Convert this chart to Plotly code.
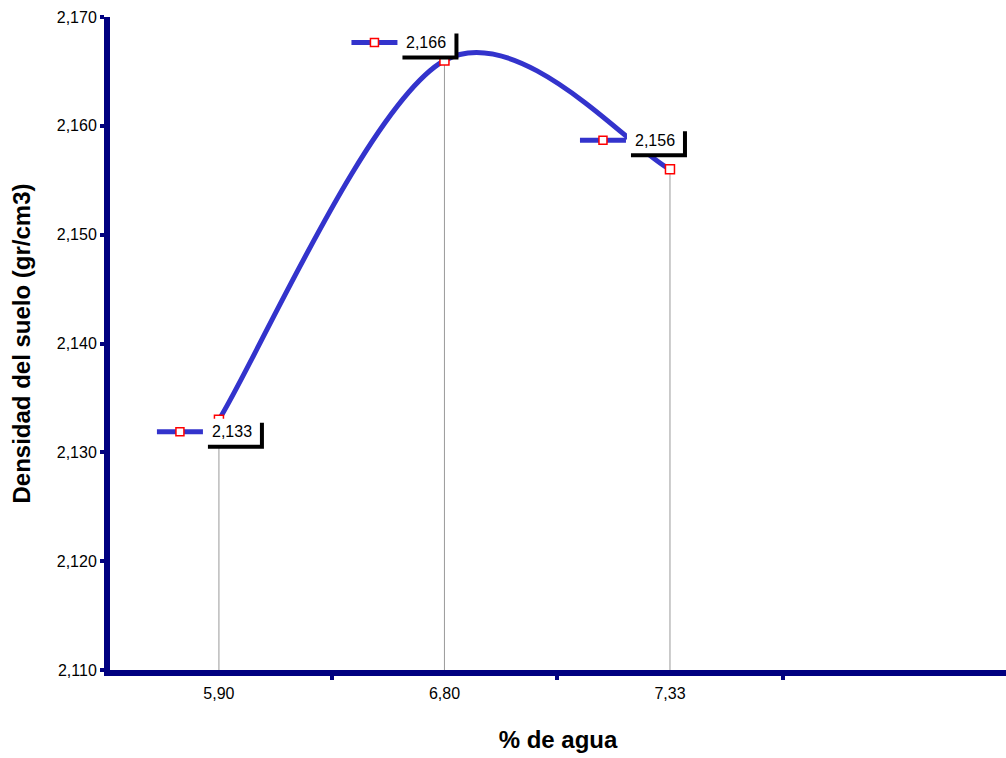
import plotly.graph_objects as go

# Compaction test: soil density vs water content
water_pct = [5.90, 6.80, 7.33]
density = [2.133, 2.166, 2.156]
y_min, y_max = 2.110, 2.170

def comma(v, nd):
    return f"{v:.{nd}f}".replace(".", ",")

tick_text = [comma(w, 2) for w in water_pct]
x_pos = list(range(len(water_pct)))  # evenly spaced category slots

LINE_BLUE = "#3333CC"
AXIS_NAVY = "#000080"
FONT = "Arial, Liberation Sans, sans-serif"


def smooth_path(xs, ys, tension=1 / 6):
    """Cubic Bezier smoothing (Catmull-Rom tangents, end points repeated)."""
    pts = list(zip(xs, ys))
    n = len(pts)
    ext = [pts[0]] + pts + [pts[-1]]
    d = f"M {pts[0][0]},{pts[0][1]}"
    for i in range(n - 1):
        p_prev, p0, p1, p_next = ext[i], ext[i + 1], ext[i + 2], ext[i + 3]
        c1 = (p0[0] + (p1[0] - p_prev[0]) * tension,
              p0[1] + (p1[1] - p_prev[1]) * tension)
        c2 = (p1[0] - (p_next[0] - p0[0]) * tension,
              p1[1] - (p_next[1] - p0[1]) * tension)
        d += f" C {c1[0]},{c1[1]} {c2[0]},{c2[1]} {p1[0]},{p1[1]}"
    return d


fig = go.Figure()

# markers with drop lines to the horizontal axis
fig.add_trace(go.Scatter(
    x=x_pos,
    y=density,
    mode="markers",
    marker=dict(symbol="square", size=9, color="white",
                line=dict(color="red", width=1.5)),
    error_y=dict(type="data", symmetric=False,
                 array=[0] * len(density),
                 arrayminus=[d - y_min for d in density],
                 color="#999999", thickness=1, width=0),
    showlegend=False,
    hoverinfo="skip",
))

shapes = [dict(type="path", xref="x", yref="y", layer="below",
               path=smooth_path(x_pos, density),
               line=dict(color=LINE_BLUE, width=5))]

# Data-label placement (pixel offsets of the label centre from each point; +down)
label_offsets = [(13, 12), (-18, -18), (-15, -29)]

annotations = []
for xi, d, (cx, cy) in zip(x_pos, density, label_offsets):
    common = dict(xref="x", yref="y", xsizemode="pixel", ysizemode="pixel",
                  xanchor=xi, yanchor=d, layer="above")
    # drop shadow
    shapes.append(dict(type="rect", **common,
                       x0=cx - 24, x1=cx + 32, y0=-(cy + 17), y1=-(cy - 9),
                       fillcolor="black", line=dict(width=0)))
    # white label box
    shapes.append(dict(type="rect", **common,
                       x0=cx - 28, x1=cx + 28, y0=-(cy + 13), y1=-(cy - 13),
                       fillcolor="white", line=dict(width=0)))
    # legend key: line + marker
    shapes.append(dict(type="line", **common,
                       x0=cx - 75, x1=cx - 29, y0=-cy, y1=-cy,
                       line=dict(color=LINE_BLUE, width=5)))
    shapes.append(dict(type="rect", **common,
                       x0=cx - 56, x1=cx - 48, y0=-cy - 4, y1=-cy + 4,
                       fillcolor="white", line=dict(color="red", width=1.5)))
    annotations.append(dict(x=xi, y=d, xref="x", yref="y",
                            text=comma(d, 3), showarrow=False,
                            xshift=cx, yshift=-cy,
                            font=dict(family=FONT, size=16, color="black")))

fig.update_layout(
    width=1006, height=758,
    margin=dict(l=110, r=0, t=17, b=88),
    paper_bgcolor="white", plot_bgcolor="white",
    separators=",.",
    shapes=shapes,
    annotations=annotations,
    xaxis=dict(
        range=[-0.483, 3.49],
        tickmode="array", tickvals=x_pos, ticktext=tick_text,
        ticks="outside", ticklen=4, tickcolor="rgba(0,0,0,0)",
        minor=dict(tick0=0.5, dtick=1, ticks="outside", ticklen=4,
                   tickwidth=4, tickcolor=AXIS_NAVY, showgrid=False),
        ticklabelstandoff=0,
        showline=True, linecolor=AXIS_NAVY, linewidth=6,
        showgrid=False, zeroline=False,
        tickfont=dict(family=FONT, size=16, color="black"),
        title=dict(text="<b>% de agua</b>", standoff=32,
                   font=dict(family=FONT, size=24, color="black")),
    ),
    yaxis=dict(
        range=[y_min, y_max],
        dtick=0.01, tick0=y_min, tickformat=".3f",
        ticks="outside", ticklen=4, tickwidth=4, tickcolor=AXIS_NAVY,
        showline=True, linecolor=AXIS_NAVY, linewidth=6,
        showgrid=False, zeroline=False,
        tickfont=dict(family=FONT, size=16, color="black"),
        title=dict(text="<b>Densidad del suelo (gr/cm3)</b>", standoff=21,
                   font=dict(family=FONT, size=24, color="black")),
    ),
)

fig.write_html("out.html")
